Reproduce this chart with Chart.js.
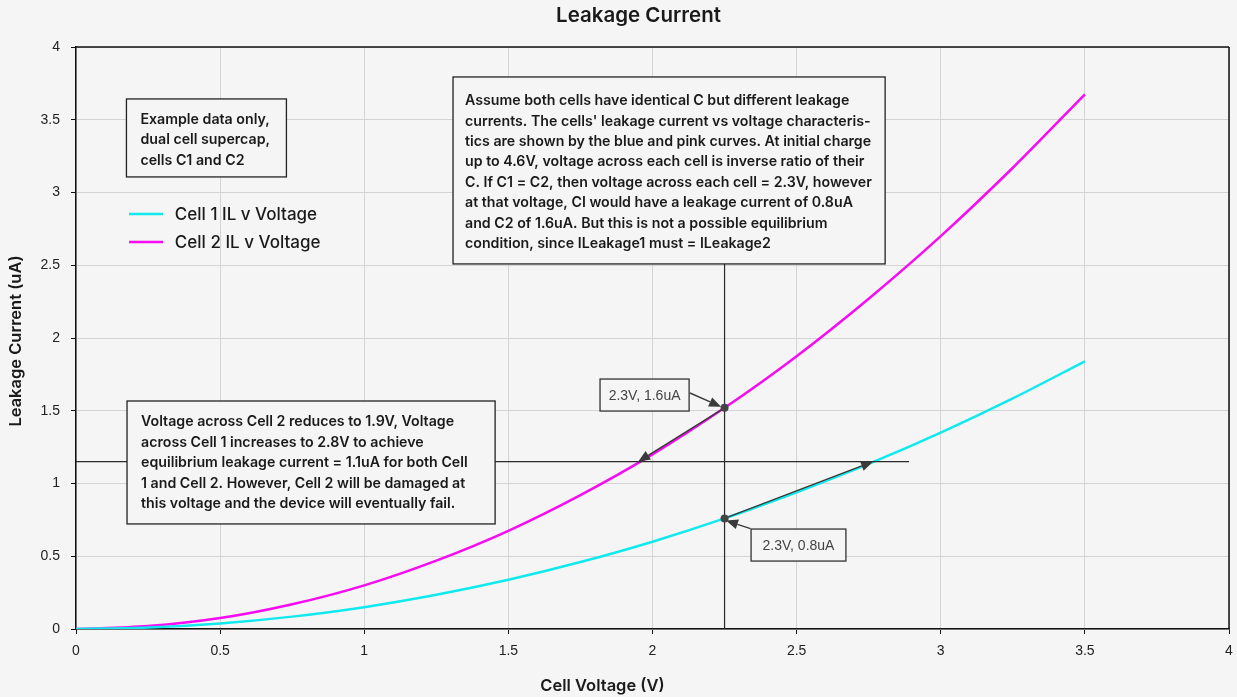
<!DOCTYPE html>
<html>
<head>
<meta charset="utf-8">
<title>Leakage Current</title>
<script src="https://cdn.jsdelivr.net/npm/chart.js@4.4.1/dist/chart.umd.min.js"></script>
<style>
  html, body { margin: 0; padding: 0; background: #f5f5f5; }
  #wrap { width: 1237px; height: 697px; }
</style>
</head>
<body>
<div id="wrap"><canvas id="chart" width="1237" height="697"></canvas></div>
<script>
// Cell voltage (V) - x values of both curves
const voltages = [0, 0.25, 0.5, 0.75, 1, 1.25, 1.5, 1.75, 2, 2.25, 2.5, 2.75, 3, 3.25, 3.5];
// Leakage current (uA)
const cell1Current = [0, 0.01, 0.038, 0.085, 0.15, 0.235, 0.338, 0.46, 0.6, 0.76, 0.94, 1.135, 1.35, 1.585, 1.84];
const cell2Current = [0, 0.02, 0.075, 0.17, 0.3, 0.47, 0.675, 0.92, 1.2, 1.52, 1.875, 2.27, 2.7, 3.17, 3.675];
const seriesLabels = ["Cell 1 IL v Voltage", "Cell 2 IL v Voltage"];
const seriesColors = ["#10e9ee", "#f70cf2"];

// axis ticks
const xTicks = [0, 0.5, 1, 1.5, 2, 2.5, 3, 3.5, 4];
const yTicks = [0, 0.5, 1, 1.5, 2, 2.5, 3, 3.5, 4];

// operating points (V, uA)
const pointC2 = [2.25, 1.52];
const pointC1 = [2.25, 0.76];
const equilibriumCurrent = 1.15;

const noteExample = ["Example data only,", "dual cell supercap,", "cells C1 and C2"];
const noteAssume = [
  "Assume both cells have identical C but different leakage",
  "currents. The cells' leakage current vs voltage characteris-",
  "tics are shown by the blue and pink curves. At initial charge",
  "up to 4.6V, voltage across each cell is inverse ratio of their",
  "C. If C1 = C2, then voltage across each cell = 2.3V, however",
  "at that voltage, CI would have a leakage current of 0.8uA",
  "and C2 of 1.6uA. But this is not a possible equilibrium",
  "condition, since ILeakage1 must = ILeakage2"
];
const noteResult = [
  "Voltage across Cell 2 reduces to 1.9V, Voltage",
  "across Cell 1 increases to 2.8V to achieve",
  "equilibrium leakage current = 1.1uA for both Cell",
  "1 and Cell 2. However, Cell 2 will be damaged at",
  "this voltage and the device will eventually fail."
];

function toPoints(xs, ys) {
  return xs.map(function (x, i) { return { x: x, y: ys[i] }; });
}

const BOX_FONT = "600 14.2px Inter, 'Noto Sans', sans-serif";
const INK = "#1a1a1a";

// Draws the annotation layer (boxes, arrows, lines, legend, titles)
const annotations = {
  id: "annotations",
  afterDatasetsDraw(chart) {
    const ctx = chart.ctx;
    const xs = chart.scales.x, ys = chart.scales.y;
    const px = function (v) { return xs.getPixelForValue(v); };
    const py = function (v) { return ys.getPixelForValue(v); };
    const area = chart.chartArea;

    function line(x0, y0, x1, y1, color, w) {
      ctx.save();
      ctx.strokeStyle = color; ctx.lineWidth = w;
      ctx.beginPath(); ctx.moveTo(x0, y0); ctx.lineTo(x1, y1); ctx.stroke();
      ctx.restore();
    }
    function arrow(x0, y0, x1, y1) {
      const a = Math.atan2(y1 - y0, x1 - x0);
      const len = 12, half = 5;
      const bx = x1 - len * Math.cos(a), by = y1 - len * Math.sin(a);
      line(x0, y0, bx, by, "#3a3a3a", 1.4);
      ctx.save();
      ctx.fillStyle = "#3a3a3a";
      ctx.beginPath();
      ctx.moveTo(x1, y1);
      ctx.lineTo(bx + half * Math.sin(a), by - half * Math.cos(a));
      ctx.lineTo(bx - half * Math.sin(a), by + half * Math.cos(a));
      ctx.closePath(); ctx.fill();
      ctx.restore();
    }
    function box(x0, y0, x1, y1, lines, opts) {
      const l = px(x0), t = py(y0), r = px(x1), b = py(y1);
      ctx.save();
      ctx.fillStyle = "#f5f5f5";
      ctx.fillRect(l, t, r - l, b - t);
      ctx.strokeStyle = opts.border || "#222"; ctx.lineWidth = 1.3;
      ctx.strokeRect(l, t, r - l, b - t);
      ctx.font = opts.font; ctx.fillStyle = opts.color || INK;
      ctx.textBaseline = "middle";
      if (opts.center) {
        ctx.textAlign = "center";
        ctx.fillText(lines[0], (l + r) / 2, (t + b) / 2 + 1);
      } else {
        ctx.textAlign = "left";
        lines.forEach(function (s, i) {
          ctx.fillText(s, l + opts.padX, t + opts.first + i * opts.step);
        });
      }
      ctx.restore();
    }

    // frame top + right
    line(area.left, area.top, area.right, area.top, "#111", 1.5);
    line(area.right, area.top, area.right, area.bottom, "#111", 1.5);

    // guide lines
    line(px(pointC1[0]), py(2.51), px(pointC1[0]), py(0), "#2a2a2a", 1.2);
    line(px(0), py(equilibriumCurrent), px(2.89), py(equilibriumCurrent), "#2a2a2a", 1.2);

    // arrows along the curves towards equilibrium
    arrow(px(pointC2[0]), py(pointC2[1]), px(1.95), py(equilibriumCurrent));
    arrow(px(pointC1[0]), py(pointC1[1]), px(2.765), py(equilibriumCurrent));

    // label arrows
    arrow(px(2.13), py(1.622), px(2.238), py(1.527));
    arrow(px(2.34), py(0.69), px(2.255), py(0.745));

    // operating point dots
    [pointC2, pointC1].forEach(function (p) {
      ctx.save();
      ctx.fillStyle = "#444";
      ctx.beginPath(); ctx.arc(px(p[0]), py(p[1]), 4, 0, Math.PI * 2); ctx.fill();
      ctx.restore();
    });

    // text boxes
    box(0.175, 3.643, 0.73, 3.107, noteExample, { font: BOX_FONT, padX: 14, first: 20.5, step: 20.7 });
    box(1.308, 3.794, 2.807, 2.509, noteAssume, { font: BOX_FONT, padX: 12, first: 24, step: 20.4 });
    box(0.177, 1.567, 1.454, 0.722, noteResult, { font: BOX_FONT, padX: 14, first: 21, step: 20.5 });
    box(1.818, 1.718, 2.127, 1.498, ["2.3V, 1.6uA"], { font: "14px 'Liberation Sans', Arial, sans-serif", color: "#444", border: "#333", center: true });
    box(2.342, 0.687, 2.671, 0.467, ["2.3V, 0.8uA"], { font: "14px 'Liberation Sans', Arial, sans-serif", color: "#444", border: "#333", center: true });

    // legend
    const legendY = [2.852, 2.66];
    seriesLabels.forEach(function (label, i) {
      const y = py(legendY[i]);
      line(px(0.184), y, px(0.302), y, seriesColors[i], 2.5);
      ctx.save();
      ctx.font = "500 17px Inter, 'Noto Sans', sans-serif";
      ctx.fillStyle = INK; ctx.textBaseline = "middle"; ctx.textAlign = "left";
      ctx.fillText(label, px(0.343), y + 1);
      ctx.restore();
    });

    // chart + axis titles
    ctx.save();
    ctx.fillStyle = INK; ctx.textAlign = "center"; ctx.textBaseline = "middle";
    ctx.font = "600 20.5px Inter, 'Noto Sans', sans-serif";
    ctx.fillText("Leakage Current", 638.5, 16);
    ctx.font = "600 16.5px Inter, 'Noto Sans', sans-serif";
    ctx.fillText("Cell Voltage (V)", 602.5, 686);
    ctx.translate(16, 341);
    ctx.rotate(-Math.PI / 2);
    ctx.fillText("Leakage Current (uA)", 0, 0);
    ctx.restore();
  }
};

const tickFont = { family: "'Liberation Sans', Arial, sans-serif", size: 14 };
const plainLabel = function (v) { return String(v); };

new Chart(document.getElementById("chart"), {
  type: "line",
  data: {
    datasets: [
      {
        label: seriesLabels[0],
        data: toPoints(voltages, cell1Current),
        borderColor: seriesColors[0],
        borderWidth: 2.5,
        pointRadius: 0,
        cubicInterpolationMode: "monotone",
        fill: false,
      },
      {
        label: seriesLabels[1],
        data: toPoints(voltages, cell2Current),
        borderColor: seriesColors[1],
        borderWidth: 2.5,
        pointRadius: 0,
        cubicInterpolationMode: "monotone",
        fill: false,
      },
    ],
  },
  options: {
    responsive: false,
    animation: false,
    layout: { padding: { top: 47, right: 8, left: 0, bottom: 0 } },
    plugins: {
      legend: { display: false },
      title: { display: false },
      tooltip: { enabled: false },
    },
    scales: {
      x: {
        type: "linear",
        min: 0,
        max: 4,
        afterFit: function (s) { s.height = 68; s.paddingLeft = 0; s.paddingRight = 0; },
        afterBuildTicks: function (s) { s.ticks = xTicks.map(function (v) { return { value: v }; }); },
        ticks: { color: "#222", font: tickFont, padding: 9, maxRotation: 0, callback: plainLabel },
        grid: { color: "#d4d4d4", lineWidth: 1, tickLength: 5, tickColor: "#111" },
        border: { color: "#111", width: 1.5 },
      },
      y: {
        type: "linear",
        min: 0,
        max: 4,
        afterFit: function (s) { s.width = 76; s.paddingTop = 0; s.paddingBottom = 0; },
        afterBuildTicks: function (s) { s.ticks = yTicks.map(function (v) { return { value: v }; }); },
        ticks: { color: "#222", font: tickFont, padding: 11, callback: plainLabel },
        grid: { color: "#d4d4d4", lineWidth: 1, tickLength: 5, tickColor: "#111" },
        border: { color: "#111", width: 1.5 },
      },
    },
  },
  plugins: [annotations],
});
</script>
</body>
</html>
